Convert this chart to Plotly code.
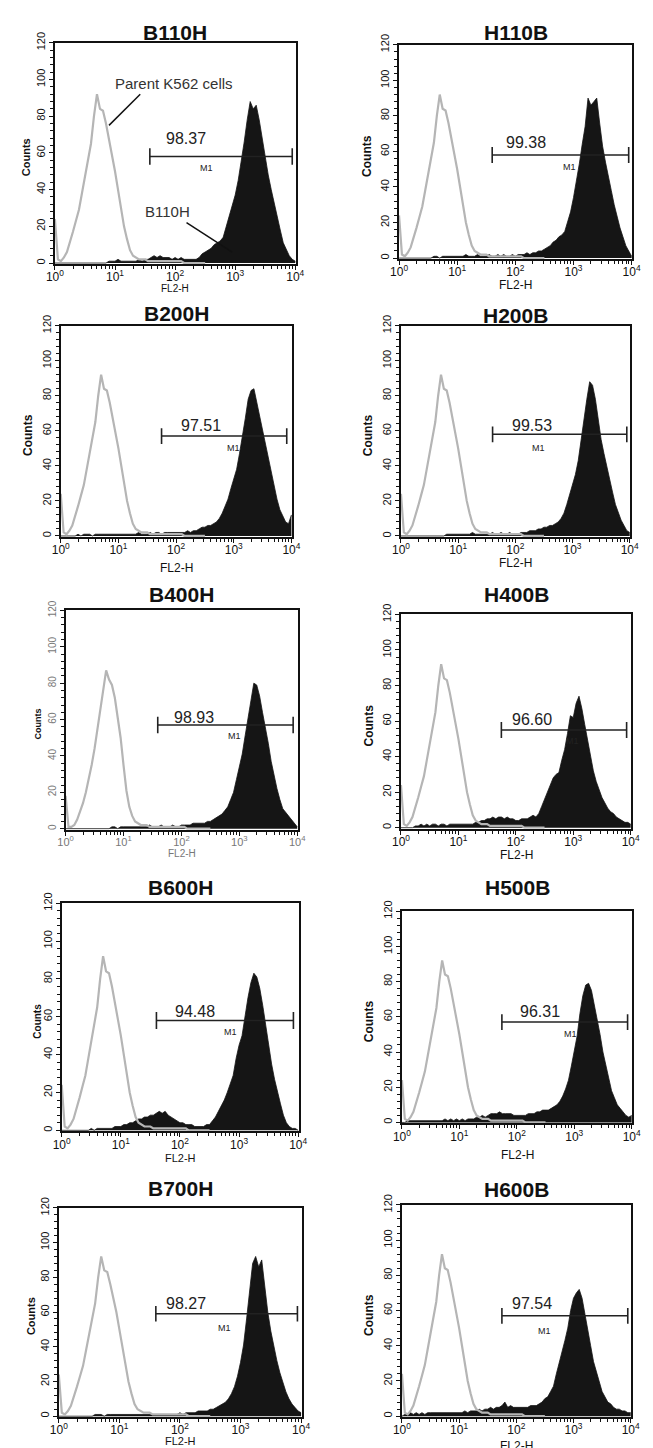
import plotly.graph_objects as go

W, H = 653, 1448
OFF = 8                      # page body margin of the html page
FW, FH = W - OFF, H - OFF    # figure size so that the figure ends at the window edge

# ---------------- data ----------------
PANEL_NAMES = ["B110H", "H110B", "B200H", "H200B", "B400H",
               "H400B", "B600H", "H500B", "B700H", "H600B"]
PERCENTS = ["98.37", "99.38", "97.51", "99.53", "98.93",
            "96.60", "94.48", "96.31", "98.27", "97.54"]
GATE_LO = [38, 40, 56, 40, 39, 56, 40, 55, 40, 56]
GATE_HI = [8900, 8900, 8300, 8900, 8500, 8500, 8300, 8500, 8700, 8900]
GATE_Y = [58, 58, 57, 58, 57, 55, 58, 57, 59, 57]

# channel positions (decades of FL2-H), 0.05-decade bins
BIN_DECADE = [round(i * 0.05, 2) for i in range(81)]
PARENT_DECADE = BIN_DECADE[:51]

# parent K562 cells (grey outline), bins 0 .. 2.5 decades
PARENT_COUNTS = [24, 2, 1, 3, 6, 11, 17, 23, 29, 38,
                 47, 56, 65, 80, 92, 84, 83, 76, 68, 60,
                 50, 40, 29, 20, 13, 7, 4, 3, 2, 2,
                 2, 1, 1, 1, 1, 1, 1, 1, 1, 1,
                 1, 1, 1, 0, 0, 0, 0, 0, 0, 0,
                 0]
PARENT_COUNTS_B400H = [18, 1, 1, 2, 5, 9, 14, 20, 27, 35,
                       44, 55, 66, 78, 87, 82, 79, 72, 62, 50,
                       35, 21, 12, 7, 4, 3, 2, 2, 2, 1,
                       1, 1, 1, 1, 1, 1, 1, 1, 1, 1,
                       1, 1, 0, 0, 0, 0, 0, 0, 0, 0,
                       0]

# stained cells (black filled), bins 0 .. 4 decades
B110H = [0, 0, 0, 0, 0, 0, 0, 0, 0, 0,
         0, 0, 0, 0, 0, 0, 0, 0, 1, 1,
         1, 2, 1, 1, 1, 1, 1, 1, 2, 1,
         2, 2, 3, 4, 3, 4, 3, 3, 3, 2,
         3, 2, 3, 2, 2, 2, 2, 2, 3, 5,
         6, 7, 8, 10, 11, 12, 14, 20, 26, 31,
         37, 45, 55, 66, 78, 88, 84, 86, 78, 68,
         57, 48, 40, 32, 25, 18, 11, 7, 4, 2,
         1]
H110B = [0, 0, 0, 0, 0, 0, 0, 0, 0, 0,
         0, 0, 1, 1, 0, 1, 1, 1, 1, 1,
         1, 1, 1, 2, 1, 1, 1, 2, 1, 1,
         1, 2, 1, 1, 2, 1, 2, 1, 1, 2,
         1, 2, 2, 2, 3, 2, 3, 3, 4, 4,
         5, 6, 7, 9, 10, 12, 13, 15, 20, 26,
         34, 43, 53, 64, 74, 90, 86, 88, 90, 76,
         63, 54, 45, 38, 30, 23, 17, 12, 7, 4,
         1]
B200H = [0, 0, 0, 0, 0, 0, 1, 0, 1, 1,
         1, 0, 1, 1, 1, 1, 1, 1, 1, 1,
         1, 1, 1, 1, 1, 1, 1, 2, 1, 1,
         1, 2, 1, 2, 2, 1, 2, 2, 2, 2,
         2, 2, 2, 2, 3, 2, 3, 3, 4, 5,
         5, 6, 6, 7, 8, 10, 13, 17, 21, 27,
         32, 38, 47, 56, 67, 78, 83, 84, 76, 68,
         61, 52, 44, 35, 28, 21, 15, 11, 8, 7,
         12]
H200B = [0, 0, 0, 0, 0, 0, 0, 0, 0, 0,
         0, 0, 0, 0, 0, 0, 1, 1, 1, 1,
         1, 1, 1, 1, 1, 2, 1, 1, 1, 1,
         1, 1, 2, 1, 1, 2, 1, 1, 2, 1,
         1, 1, 2, 2, 2, 3, 3, 3, 4, 4,
         5, 5, 6, 6, 7, 8, 10, 13, 18, 24,
         29, 35, 43, 55, 68, 78, 88, 86, 78, 66,
         55, 47, 39, 33, 25, 18, 13, 9, 6, 3,
         2]
B400H = [0, 0, 0, 0, 0, 0, 0, 0, 0, 0,
         0, 0, 0, 0, 0, 0, 1, 1, 0, 1,
         1, 1, 1, 1, 1, 1, 1, 1, 1, 2,
         1, 1, 1, 2, 1, 1, 1, 2, 1, 1,
         2, 2, 2, 2, 3, 3, 3, 3, 3, 4,
         4, 5, 6, 7, 8, 10, 12, 16, 20, 27,
         34, 41, 51, 61, 72, 80, 79, 73, 64, 56,
         47, 37, 29, 22, 16, 11, 9, 7, 5, 3,
         1]
H400B = [0, 0, 0, 0, 0, 1, 1, 2, 1, 2,
         1, 2, 2, 1, 2, 2, 1, 2, 2, 2,
         2, 2, 2, 2, 2, 2, 3, 3, 4, 4,
         5, 5, 6, 5, 6, 6, 5, 6, 5, 5,
         4, 4, 5, 5, 5, 6, 7, 6, 8, 12,
         16, 20, 24, 28, 30, 31, 38, 44, 53, 63,
         62, 70, 74, 67, 58, 49, 40, 32, 26, 21,
         17, 14, 11, 9, 8, 6, 5, 4, 3, 3,
         2]
B600H = [0, 0, 0, 0, 0, 0, 0, 0, 0, 0,
         1, 0, 1, 1, 1, 1, 1, 1, 2, 2,
         2, 3, 3, 4, 4, 5, 6, 6, 7, 7,
         8, 8, 9, 10, 9, 10, 8, 7, 6, 5,
         4, 4, 3, 3, 3, 2, 2, 2, 2, 3,
         3, 5, 7, 10, 13, 16, 20, 24, 29, 38,
         45, 50, 61, 70, 78, 83, 81, 75, 66, 55,
         45, 35, 27, 20, 14, 8, 4, 2, 1, 1,
         0]
H500B = [0, 0, 1, 1, 1, 1, 1, 1, 1, 1,
         1, 1, 1, 1, 1, 2, 1, 2, 1, 2,
         1, 2, 1, 2, 2, 2, 3, 3, 4, 3,
         4, 5, 5, 5, 6, 5, 5, 5, 5, 4,
         4, 4, 4, 4, 5, 5, 5, 6, 6, 7,
         7, 7, 8, 9, 10, 12, 15, 19, 24, 32,
         40, 49, 62, 72, 78, 79, 75, 67, 58, 50,
         40, 32, 24, 18, 14, 10, 8, 6, 4, 3,
         4]
B700H = [0, 0, 0, 0, 0, 0, 0, 0, 0, 0,
         0, 0, 1, 1, 1, 0, 1, 1, 1, 1,
         1, 1, 1, 1, 1, 1, 1, 1, 1, 1,
         1, 1, 1, 1, 1, 1, 1, 1, 1, 1,
         2, 1, 2, 2, 2, 2, 3, 3, 3, 3,
         4, 4, 5, 6, 7, 8, 10, 13, 17, 23,
         31, 41, 56, 72, 88, 92, 86, 90, 74, 60,
         49, 40, 32, 25, 19, 14, 10, 7, 5, 3,
         2]
H600B = [0, 1, 1, 2, 1, 2, 1, 2, 1, 2,
         2, 2, 2, 2, 2, 2, 2, 2, 2, 2,
         2, 2, 3, 2, 3, 3, 3, 4, 3, 4,
         4, 5, 4, 5, 5, 6, 8, 5, 6, 5,
         5, 5, 5, 5, 5, 6, 6, 6, 7, 8,
         10, 11, 14, 17, 24, 30, 36, 43, 50, 60,
         67, 70, 72, 67, 58, 50, 40, 31, 25, 19,
         14, 11, 8, 7, 5, 4, 4, 3, 3, 2,
         2]

SAMPLES = [B110H, H110B, B200H, H200B, B400H, H400B, B600H, H500B, B700H, H600B]
PARENTS = [PARENT_COUNTS, PARENT_COUNTS, PARENT_COUNTS, PARENT_COUNTS, PARENT_COUNTS_B400H,
           PARENT_COUNTS, PARENT_COUNTS, PARENT_COUNTS, PARENT_COUNTS, PARENT_COUNTS]

# ---------------- layout (window pixel frames etc.) ----------------
# frame: left, right, top, bottom (window pixels)
FRAMES = [(47, 295, 32, 255), (401, 641, 34, 250),
          (53, 291, 317, 530), (403, 639, 317, 530),
          (58, 297, 604, 825), (403, 640, 608, 824),
          (54, 298, 899, 1129), (404, 641, 907, 1121),
          (51, 301, 1206, 1417), (404, 640, 1203, 1417)]
TITLE_Y = [22, 22, 305, 307, 588, 588, 883, 883, 1187, 1188]
COUNTS_DX = [29, 33, 33, 34, 28, 33, 25, 34, 29, 34]
COUNTS_SIZE = [11, 12, 12, 12, 9, 12, 10, 12, 11, 12]
FL2_DY = [25, 26, 31, 26, 24, 26, 27, 32, 24, 29]
FL2_SIZE = [10, 12, 12, 12, 10, 12, 11, 12, 11, 12]
LABEL_POS = [(2.18, 68), (2.18, 65), (2.44, 63), (2.29, 63), (2.21, 61),
             (2.28, 61), (2.25, 63), (2.41, 63), (2.10, 65), (2.27, 64)]
M1_POS = [(2.52, 52), (2.93, 51), (3.0, 50), (2.41, 50), (2.91, 51),
          (2.99, 49), (2.85, 52), (2.94, 50), (2.73, 51), (2.5, 48.5)]
MUTED = [False, False, False, False, True, False, False, False, False, False]


def px(xp):
    return (xp - OFF) / FW


def py(yp):
    return 1 - (yp - OFF) / FH


FONT = "Liberation Sans, Arial, sans-serif"
BLACK = "#151515"
GREY = "#b5b5b5"

fig = go.Figure()
annotations = []

x_major = [1, 10, 100, 1000, 10000]
x_major_txt = ["10<sup>0</sup>", "10<sup>1</sup>", "10<sup>2</sup>", "10<sup>3</sup>", "10<sup>4</sup>"]
x_minor = [m * 10 ** d for d in range(4) for m in range(2, 10)]
y_major = [0, 20, 40, 60, 80, 100, 120]
y_minor = [v for v in range(0, 121, 4) if v % 20 != 0]

for i in range(10):
    n = i + 1
    xa = "x" if n == 1 else f"x{n}"
    ya = "y" if n == 1 else f"y{n}"
    l, r, t, b = FRAMES[i]
    tick_col = "#777777" if MUTED[i] else "#111111"

    # stained sample (black filled)
    fig.add_trace(go.Scatter(
        x=[10 ** v for v in BIN_DECADE], y=SAMPLES[i], xaxis=xa, yaxis=ya,
        mode="lines", line=dict(color=BLACK, width=0.8),
        fill="tozeroy", fillcolor=BLACK, hoverinfo="skip", showlegend=False))
    # parent cells (grey outline)
    fig.add_trace(go.Scatter(
        x=[10 ** v for v in PARENT_DECADE], y=PARENTS[i], xaxis=xa, yaxis=ya,
        mode="lines", line=dict(color=GREY, width=2.2),
        hoverinfo="skip", showlegend=False))
    # M1 gate marker
    fig.add_trace(go.Scatter(
        x=[GATE_LO[i], GATE_HI[i]], y=[GATE_Y[i], GATE_Y[i]], xaxis=xa, yaxis=ya,
        mode="lines", line=dict(color="#222222", width=1.5),
        error_y=dict(type="constant", value=4.5, width=0, thickness=1.6, color="#222222"),
        hoverinfo="skip", showlegend=False))

    xkey = "xaxis" if n == 1 else f"xaxis{n}"
    ykey = "yaxis" if n == 1 else f"yaxis{n}"
    fig.layout[xkey] = dict(
        domain=[px(l), px(r)], anchor=ya, type="log", range=[0, 4.012],
        tickmode="array", tickvals=x_major, ticktext=x_major_txt,
        ticks="outside", ticklen=4, tickwidth=1.2, tickcolor="#111111",
        ticklabelstandoff=-3,
        minor=dict(tickmode="array", tickvals=x_minor, ticks="outside",
                   ticklen=3, tickwidth=1, tickcolor="#111111", showgrid=False),
        tickfont=dict(family=FONT, size=11 if MUTED[i] else 12, color=tick_col),
        showgrid=False, zeroline=False, showline=True, linecolor="#111111",
        linewidth=1.5, mirror=True, fixedrange=True)
    fig.layout[ykey] = dict(
        domain=[py(b), py(t)], anchor=xa, range=[-0.6, 120],
        tickmode="array", tickvals=y_major, tickangle=-90,
        ticks="outside", ticklen=4, tickwidth=1.2, tickcolor="#111111",
        minor=dict(tickmode="array", tickvals=y_minor, ticks="outside",
                   ticklen=3, tickwidth=1, tickcolor="#111111", showgrid=False),
        tickfont=dict(family=FONT, size=10 if MUTED[i] else 11, color=tick_col),
        showgrid=False, zeroline=False, showline=True, linecolor="#111111",
        linewidth=1.5, mirror=True, fixedrange=True)

    # panel title
    annotations.append(dict(
        text=f"<b>{PANEL_NAMES[i]}</b>", xref="paper", yref="paper",
        x=px((l + r) / 2), y=py(TITLE_Y[i]), xanchor="center", yanchor="middle",
        showarrow=False, font=dict(family=FONT, size=21, color="#111111")))
    # y title
    annotations.append(dict(
        text="<b>Counts</b>", xref="paper", yref="paper",
        x=px(l - COUNTS_DX[i]), y=py((t + b) / 2 + 4),
        xanchor="center", yanchor="middle", textangle=-90, showarrow=False,
        font=dict(family=FONT, size=COUNTS_SIZE[i], color="#111111")))
    # x title
    annotations.append(dict(
        text="FL2-H", xref="paper", yref="paper",
        x=px((l + r) / 2), y=py(b + FL2_DY[i]),
        xanchor="center", yanchor="middle", showarrow=False,
        font=dict(family=FONT, size=FL2_SIZE[i], color=tick_col)))
    # percentage label
    annotations.append(dict(
        text=PERCENTS[i], xref=xa, yref=ya, x=LABEL_POS[i][0], y=LABEL_POS[i][1],
        xanchor="center", yanchor="middle", showarrow=False,
        font=dict(family=FONT, size=16, color="#222222")))
    # M1 label
    annotations.append(dict(
        text="M1", xref=xa, yref=ya, x=M1_POS[i][0], y=M1_POS[i][1],
        xanchor="center", yanchor="middle", showarrow=False,
        font=dict(family=FONT, size=9, color="#222222")))

# pointer labels in the first panel
annotations.append(dict(text="Parent K562 cells", xref="x", yref="y", x=1.98, y=98,
                        xanchor="center", yanchor="middle", showarrow=False,
                        font=dict(family=FONT, size=15, color="#333333")))
annotations.append(dict(text="B110H", xref="x", yref="y", x=1.87, y=28,
                        xanchor="center", yanchor="middle", showarrow=False,
                        font=dict(family=FONT, size=15, color="#333333")))
fig.add_trace(go.Scatter(x=[10 ** 1.42, 10 ** 0.9], y=[92, 75], xaxis="x", yaxis="y",
                         mode="lines", line=dict(color="#111111", width=1.5),
                         hoverinfo="skip", showlegend=False))
fig.add_trace(go.Scatter(x=[10 ** 2.19, 10 ** 2.95], y=[22, 6], xaxis="x", yaxis="y",
                         mode="lines", line=dict(color="#111111", width=1.5),
                         hoverinfo="skip", showlegend=False))

fig.update_layout(
    width=FW, height=FH, margin=dict(l=0, r=0, t=0, b=0),
    paper_bgcolor="white", plot_bgcolor="white",
    annotations=annotations, showlegend=False,
    font=dict(family=FONT, color="#111111"))

fig.write_html("out.html")
